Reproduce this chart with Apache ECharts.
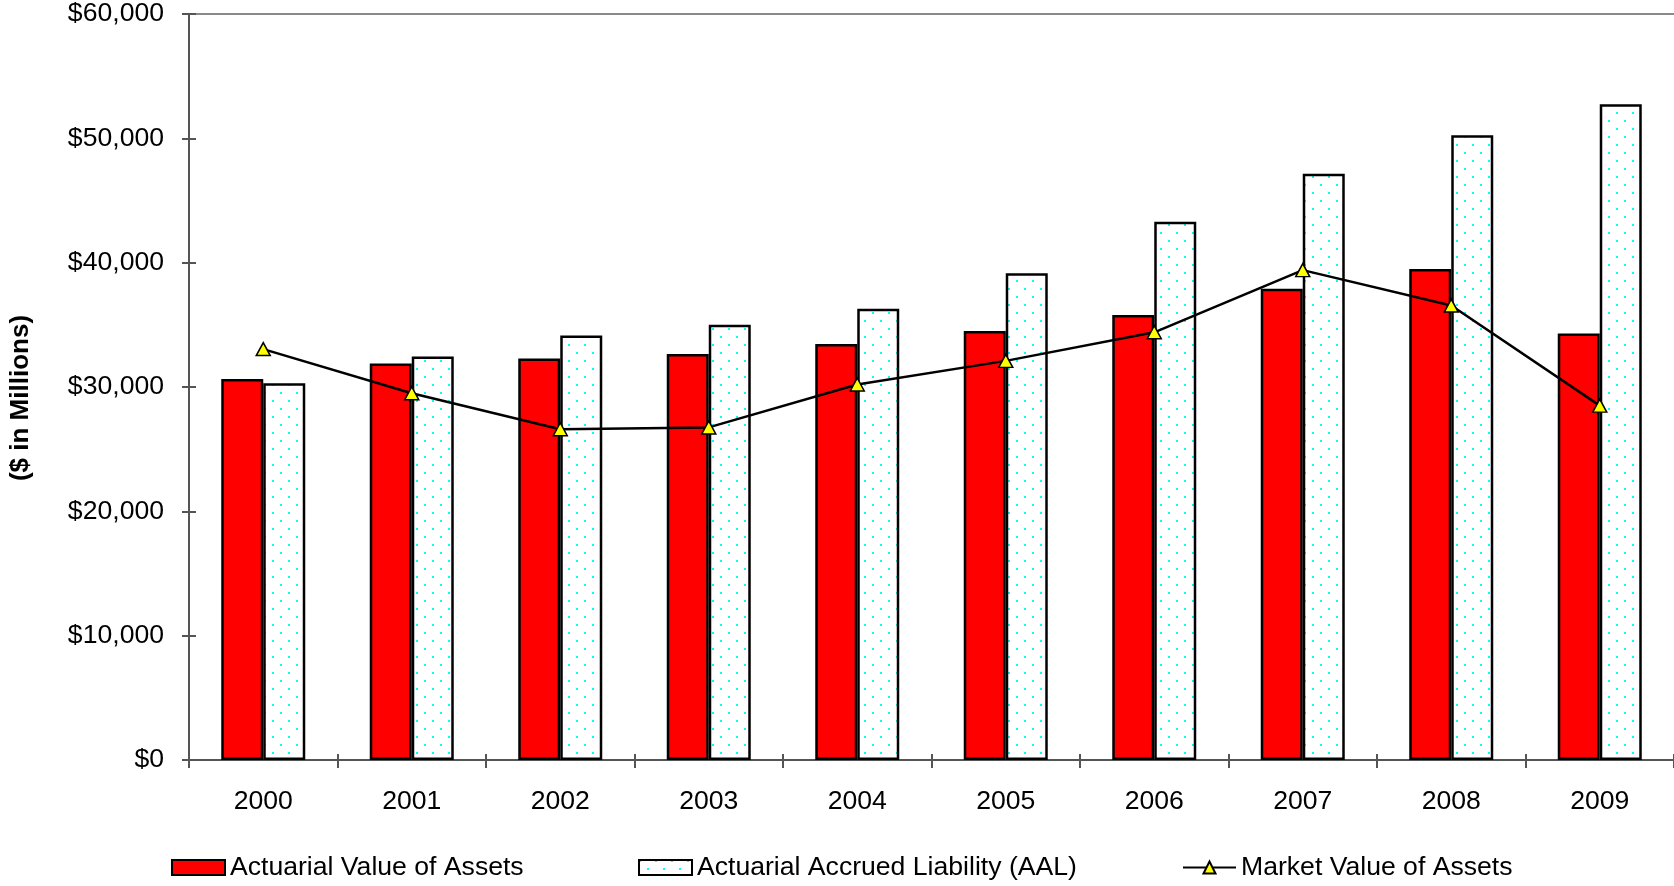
<!DOCTYPE html>
<html>
<head>
<meta charset="utf-8">
<script src="https://cdn.jsdelivr.net/npm/echarts@6/dist/echarts.min.js"></script>
<style>html,body{margin:0;padding:0;background:#fff;}#c{width:1674px;height:886px;}</style>
</head>
<body>
<div id="c"></div>
<script>
const years = ['2000','2001','2002','2003','2004','2005','2006','2007','2008','2009'];
const actuarialValue = [30650, 31900, 32300, 32650, 33450, 34500, 35800, 37900, 39500, 34300];
const accruedLiability = [30300, 32450, 34150, 35000, 36300, 39150, 43300, 47150, 50250, 52750];
const marketValue = [33050, 29500, 26600, 26750, 30200, 32100, 34400, 39400, 36550, 28500];
const yTicks = {min: 0, max: 60000, interval: 10000};

const FONT = '"Liberation Sans", Arial, sans-serif';
const FS = 26.6;

// dotted pattern (cyan dots on white)
const tile = document.createElement('canvas');
tile.width = 16; tile.height = 16;
const tctx = tile.getContext('2d');
tctx.fillStyle = '#ffffff'; tctx.fillRect(0, 0, 16, 16);
tctx.fillStyle = '#00ffff';
tctx.fillRect(0, 0, 2, 2);
tctx.fillRect(8, 8, 2, 2);

const fmt = v => '$' + v.toString().replace(/\B(?=(\d{3})+(?!\d))/g, ',');

const chart = echarts.init(document.getElementById('c'), null, {renderer: 'canvas'});
const legendText = {fontFamily: FONT, fontSize: FS, color: '#000'};
const legendBase = {top: 854, padding: 0, itemWidth: 53, itemHeight: 15, textStyle: legendText};
chart.setOption({
  animation: false,
  backgroundColor: '#fff',
  grid: {left: 187, top: 14, width: 1489, height: 746, containLabel: false},
  legend: [
    Object.assign({data: [{name: 'Actuarial Value of Assets', icon: 'rect'}], left: 171}, legendBase),
    Object.assign({data: [{name: 'Actuarial Accrued Liability (AAL)', icon: 'rect'}], left: 638}, legendBase),
    Object.assign({data: ['Market Value of Assets'], left: 1182}, legendBase)
  ],
  xAxis: [
    {
      type: 'category', data: years, position: 'bottom',
      axisLine: {show: true, lineStyle: {color: '#555', width: 2}},
      axisTick: {show: true, inside: false, length: 8, lineStyle: {color: '#555', width: 2}},
      axisLabel: {fontFamily: FONT, fontSize: FS, color: '#000', margin: 28},
      splitLine: {show: false}
    },
    {
      type: 'category', data: years, position: 'bottom',
      axisLine: {show: false},
      axisTick: {show: true, inside: true, length: 6, lineStyle: {color: '#555', width: 2}},
      axisLabel: {show: false},
      splitLine: {show: false}
    },
    {
      type: 'category', data: years, position: 'top',
      axisLine: {show: true, lineStyle: {color: '#8a8a8a', width: 2}},
      axisTick: {show: false}, axisLabel: {show: false}, splitLine: {show: false}
    }
  ],
  yAxis: [
    {
      type: 'value', min: yTicks.min, max: yTicks.max, interval: yTicks.interval, position: 'left',
      name: '($ in Millions)', nameLocation: 'middle', nameGap: 155, nameRotate: 90,
      nameTextStyle: {fontFamily: FONT, fontSize: 26, fontWeight: 'bold', color: '#000', padding: [0, 22, 0, 0]},
      axisLine: {show: true, lineStyle: {color: '#555', width: 2}},
      axisTick: {show: true, inside: false, length: 7, lineStyle: {color: '#555', width: 2}},
      axisLabel: {fontFamily: FONT, fontSize: FS, color: '#000', margin: 25, formatter: fmt},
      splitLine: {show: false}
    },
    {
      type: 'value', min: yTicks.min, max: yTicks.max, interval: yTicks.interval, position: 'left',
      axisLine: {show: false},
      axisTick: {show: true, inside: true, length: 7, lineStyle: {color: '#555', width: 2}},
      axisLabel: {show: false},
      splitLine: {show: false}
    }
  ],
  series: [
    {
      name: 'Actuarial Value of Assets', type: 'bar', data: actuarialValue,
      barWidth: 42, barGap: '0%',
      itemStyle: {color: '#ff0000', borderColor: '#000', borderWidth: 2.5}
    },
    {
      name: 'Actuarial Accrued Liability (AAL)', type: 'bar', data: accruedLiability,
      barWidth: 42, barGap: '0%',
      itemStyle: {color: {image: tile, repeat: 'repeat'}, borderColor: '#000', borderWidth: 2.5}
    },
    {
      name: 'Market Value of Assets', type: 'line', data: marketValue,
      symbol: 'triangle', symbolSize: [14, 13], showAllSymbol: true,
      lineStyle: {color: '#000', width: 2.5},
      itemStyle: {color: '#ffff00', borderColor: '#000', borderWidth: 1.5},
      z: 5
    }
  ]
});
</script>
</body>
</html>
